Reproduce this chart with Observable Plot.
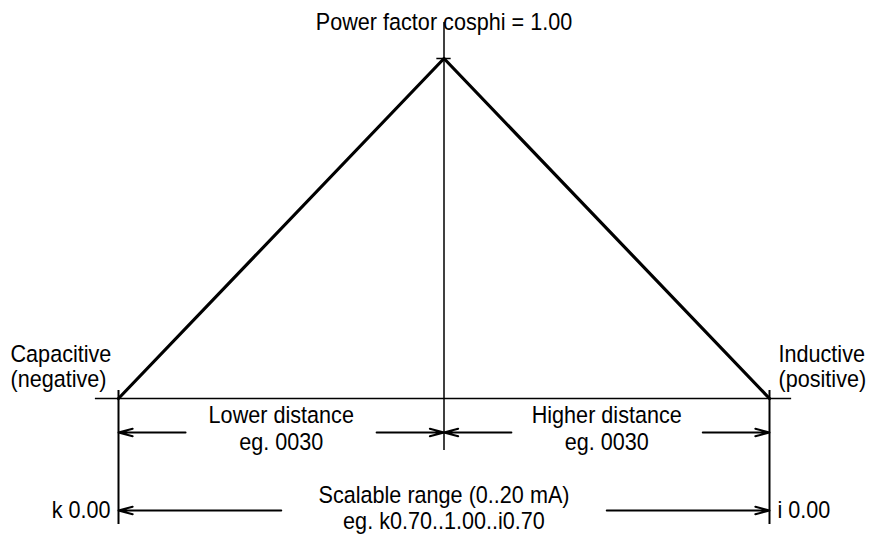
<!DOCTYPE html>
<html>
<head>
<meta charset="utf-8">
<script src="https://cdn.jsdelivr.net/npm/d3@7"></script>
<script src="https://cdn.jsdelivr.net/npm/@observablehq/plot@0.6"></script>
<style>
  html, body { margin: 0; padding: 0; background: white; }
  #chart svg { display: block; }
</style>
</head>
<body>
<div id="chart"></div>
<script>
// ---- Data ----
const states = ["Capacitive", "Power factor cosphi = 1.00", "Inductive"];
const stateNotes = ["(negative)", "", "(positive)"];
const pfPosition = [-1, 0, 1];      // capacitive end, cosphi = 1.00, inductive end
const pfHeight = [0, 1, 0];         // triangle: 0 at the ends, 1 at cosphi = 1.00
const distanceNames = ["Lower distance", "Higher distance"];
const distanceExamples = ["eg. 0030", "eg. 0030"];
const rangeLines = ["Scalable range (0..20 mA)", "eg. k0.70..1.00..i0.70"];
const endLabels = ["k 0.00", "i 0.00"];

// ---- Derived tables ----
const triangle = pfPosition.map((x, i) => ({x, y: pfHeight[i], state: states[i]}));
const left = pfPosition[0], mid = pfPosition[1], right = pfPosition[2];

// layout levels (in y-scale units, below baseline)
const distRow = -0.1, rangeRow = -0.3294;

const distArrows = [
  {x1: left + 0.206 * (mid - left), x2: left},
  {x1: mid - 0.207 * (mid - left), x2: mid},
  {x1: mid + 0.207 * (right - mid), x2: mid},
  {x1: right - 0.205 * (right - mid), x2: right}
];
const rangeArrows = [
  {x1: (left + right) / 2 - 0.25 * (right - left), x2: left},
  {x1: (left + right) / 2 + 0.25 * (right - left), x2: right}
];
const distText = [
  {x: (left + mid) / 2, a: distanceNames[0], b: distanceExamples[0]},
  {x: (mid + right) / 2, a: distanceNames[1], b: distanceExamples[1]}
];

const font = "'Liberation Sans', Arial, Helvetica, sans-serif";
const fs = 23.5;

const chart = Plot.plot({
  width: 880,
  height: 535,
  marginLeft: 118,
  marginRight: 111,
  marginTop: 58,
  marginBottom: 137,
  x: {domain: [left, right], axis: null},
  y: {domain: [0, 1], axis: null},
  style: {background: "white", fontFamily: font, color: "black"},
  marks: [
    // baseline
    Plot.ruleY([0], {x1: left - 0.071, x2: right + 0.068, stroke: "black", strokeWidth: 1.5}),
    // central vertical (cosphi = 1.00)
    Plot.ruleX([mid], {y1: 1.106, y2: -0.153, stroke: "black", strokeWidth: 1.5}),
    // end verticals
    Plot.ruleX([left, right], {y1: 0.0235, y2: -0.3706, stroke: "black", strokeWidth: 2}),
    // apex tick
    Plot.ruleY([pfHeight[1]], {x1: mid - 0.022, x2: mid + 0.022, stroke: "black", strokeWidth: 1.5}),
    // triangle
    Plot.line(triangle, {x: "x", y: "y", stroke: "black", strokeWidth: 3.2}),
    // dimension arrows
    Plot.arrow(distArrows, {x1: "x1", x2: "x2", y1: distRow, y2: distRow, stroke: "black", strokeWidth: 2, headLength: 11, headAngle: 30}),
    Plot.arrow(rangeArrows, {x1: "x1", x2: "x2", y1: rangeRow, y2: rangeRow, stroke: "black", strokeWidth: 2, headLength: 11, headAngle: 30}),
    // title
    Plot.text([states[1]], {x: mid, y: 1.0824, text: d => d, textAnchor: "middle", lineAnchor: "bottom", fontSize: fs, fill: "black"}),
    // side labels
    Plot.text([0], {x: -1.3318, y: 0.1059, text: () => states[0], textAnchor: "start", lineAnchor: "bottom", fontSize: fs, fill: "black"}),
    Plot.text([0], {x: -1.3318, y: 0.0324, text: () => stateNotes[0], textAnchor: "start", lineAnchor: "bottom", fontSize: fs, fill: "black"}),
    Plot.text([0], {x: 1.0277, y: 0.1059, text: () => states[2], textAnchor: "start", lineAnchor: "bottom", fontSize: fs, fill: "black"}),
    Plot.text([0], {x: 1.0277, y: 0.0324, text: () => stateNotes[2], textAnchor: "start", lineAnchor: "bottom", fontSize: fs, fill: "black"}),
    // distance labels
    Plot.text(distText, {x: "x", y: -0.0706, text: "a", textAnchor: "middle", lineAnchor: "bottom", fontSize: fs, fill: "black"}),
    Plot.text(distText, {x: "x", y: -0.1529, text: "b", textAnchor: "middle", lineAnchor: "bottom", fontSize: fs, fill: "black"}),
    // range labels
    Plot.text([rangeLines[0]], {x: (left + right) / 2, y: -0.3059, text: d => d, textAnchor: "middle", lineAnchor: "bottom", fontSize: fs, fill: "black"}),
    Plot.text([rangeLines[1]], {x: (left + right) / 2, y: -0.3824, text: d => d, textAnchor: "middle", lineAnchor: "bottom", fontSize: fs, fill: "black"}),
    // end labels
    Plot.text([endLabels[0]], {x: left - 0.0246, y: -0.3529, text: d => d, textAnchor: "end", lineAnchor: "bottom", fontSize: fs, fill: "black"}),
    Plot.text([endLabels[1]], {x: right + 0.0246, y: -0.3529, text: d => d, textAnchor: "start", lineAnchor: "bottom", fontSize: fs, fill: "black"})
  ]
});
// narrow the glyphs slightly, as in the original drawing (scale about each text's anchor)
chart.querySelectorAll("text").forEach(t => {
  const tr = t.getAttribute("transform");
  if (tr) t.setAttribute("transform", tr + " scale(0.92,1)");
});
document.getElementById("chart").appendChild(chart);
</script>
</body>
</html>
